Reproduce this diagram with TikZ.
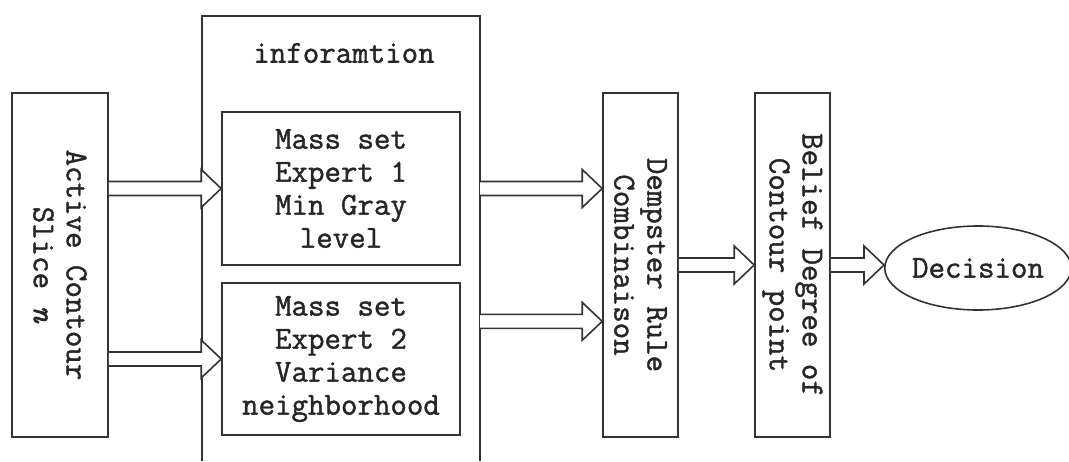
\documentclass[tikz,border=0pt]{standalone}
\usepackage{fontspec}
\newfontfamily\diagff[FakeBold=1.3]{Latin Modern Mono}
\usetikzlibrary{calc,shapes.geometric}
\newcommand\diagfont{\fontsize{32}{33}\selectfont\diagff}
\newcommand\barrow[2]{\draw[arrowline] let \p1=#1, \p2=#2 in
  (\x1,{\y1+7pt}) -- ({\x2-20pt},{\y1+7pt}) -- ({\x2-20pt},{\y1+19pt}) -- (\x2,\y1)
  -- ({\x2-20pt},{\y1-19pt}) -- ({\x2-20pt},{\y1-7pt}) -- (\x1,{\y1-7pt});}
\begin{document}
\begin{tikzpicture}[x=1pt,y=-1pt,
  box/.style={draw=black!80, line width=1.6pt, inner sep=0pt},
  lbl/.style={font=\diagfont, text=black!85, align=center, inner sep=0pt},
  arrowline/.style={draw=black!80, line width=1.6pt, fill=white, line join=miter}]
\useasboundingbox (0,0) rectangle (1069,461);
% nodes
\node[box, minimum width=96pt, minimum height=344pt] (act) at (60,265) {};
\node[lbl, rotate=-90] at (act) {Active Contour\\Slice \textit{n}};
\node[minimum width=278pt, minimum height=445pt, inner sep=0pt] (info) at (341,238.5) {};
\draw[black!80, line width=1.6pt] (info.south west) -- (info.north west) -- (info.north east) -- (info.south east);
\node[lbl] (infot) at (344,53) {inforamtion};
\node[box, minimum width=238pt, minimum height=153pt, lbl] (exp1) at (341,188.5) {Mass set\\Expert 1\\Min Gray\\level};
\node[box, minimum width=238pt, minimum height=152pt, lbl] (exp2) at (341,359) {Mass set\\Expert 2\\Variance\\neighborhood};
\node[box, minimum width=75pt, minimum height=344pt] (demp) at (640.5,265) {};
\node[lbl, rotate=-90] at (demp) {Dempster Rule\\Combinaison};
\node[box, minimum width=75pt, minimum height=344pt] (bel) at (792.5,265) {};
\node[lbl, rotate=-90] at (bel) {Belief Degree of\\Contour point};
\node[box, ellipse, minimum width=176pt, minimum height=84pt, lbl] (dec) at (978,268) {Decision};
% connectors
\barrow{(act.east |- exp1.west)}{(exp1.west)}
\barrow{(act.east |- exp2.west)}{(exp2.west)}
\barrow{(info.east |- exp1.east)}{(demp.west |- exp1.east)}
\coordinate (d2) at ($(demp.north west)!0.663!(demp.south west)$);
\barrow{(info.east |- d2)}{(d2)}
\barrow{(demp.east)}{(bel.west)}
\barrow{(bel.east)}{(dec.west)}
\end{tikzpicture}
\end{document}
